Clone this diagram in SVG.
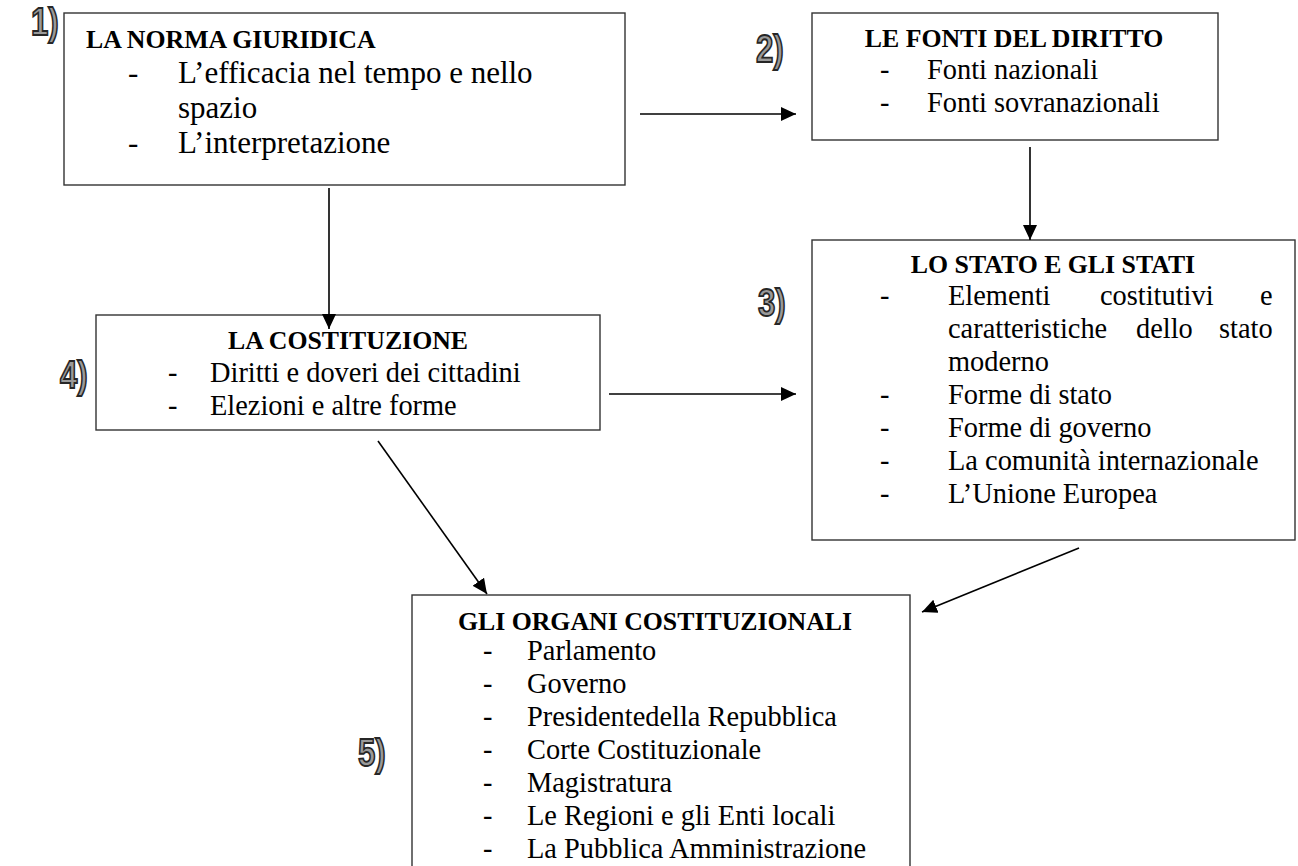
<svg xmlns="http://www.w3.org/2000/svg" width="1298" height="866" viewBox="0 0 1298 866">
<style>
.box{fill:#fff;stroke:#333;stroke-width:1.4}
.hd{font-family:"Liberation Serif","Times New Roman",serif;font-weight:bold;font-size:25.8px;fill:#000}
.it{font-family:"Liberation Serif","Times New Roman",serif;font-size:28.4px;fill:#000}
.it1{font-family:"Liberation Serif","Times New Roman",serif;font-size:31px;fill:#000}
.num{font-family:"Liberation Sans",Arial,sans-serif;font-weight:bold;font-size:38px;fill:#9a9a9a;stroke:#262626;stroke-width:1.8}
.con{stroke:#000;stroke-width:1.6;fill:none}
</style>
<defs>
<marker id="ah" markerUnits="userSpaceOnUse" markerWidth="16" markerHeight="16" refX="15" refY="7" orient="auto">
<path d="M0,0 L15,7 L0,14 z" fill="#000"/>
</marker>
</defs>
<rect width="1298" height="866" fill="#fff"/>

<g id="node1">
<rect class="box" x="64" y="13" width="561" height="172"/>
<text class="hd" x="86" y="48">LA NORMA GIURIDICA</text>
<text class="it1" x="128" y="83">-</text>
<text class="it1" x="178" y="83">L’efficacia nel tempo e nello</text>
<text class="it1" x="178" y="118">spazio</text>
<text class="it1" x="128" y="153">-</text>
<text class="it1" x="178" y="153">L’interpretazione</text>
</g>

<g id="node2">
<rect class="box" x="812" y="13" width="406" height="127"/>
<text class="hd" x="1014" y="47" text-anchor="middle">LE FONTI DEL DIRITTO</text>
<text class="it" x="880" y="79">-</text>
<text class="it" x="927" y="79">Fonti nazionali</text>
<text class="it" x="880" y="112">-</text>
<text class="it" x="927" y="112">Fonti sovranazionali</text>
</g>

<g id="node3">
<rect class="box" x="812" y="240" width="483" height="300"/>
<text class="hd" x="1053" y="273" text-anchor="middle">LO STATO E GLI STATI</text>
<text class="it" x="880" y="305">-</text>
<text class="it" y="305"><tspan x="948">Elementi</tspan><tspan x="1100">costitutivi</tspan><tspan x="1260">e</tspan></text>
<text class="it" y="338"><tspan x="948">caratteristiche</tspan><tspan x="1136">dello</tspan><tspan x="1219">stato</tspan></text>
<text class="it" x="948" y="371">moderno</text>
<text class="it" x="880" y="404">-</text>
<text class="it" x="948" y="404">Forme di stato</text>
<text class="it" x="880" y="437">-</text>
<text class="it" x="948" y="437">Forme di governo</text>
<text class="it" x="880" y="470">-</text>
<text class="it" x="948" y="470">La comunità internazionale</text>
<text class="it" x="880" y="503">-</text>
<text class="it" x="948" y="503">L’Unione Europea</text>
</g>

<g id="node4">
<rect class="box" x="96" y="315" width="504" height="115"/>
<text class="hd" x="348" y="349" text-anchor="middle">LA COSTITUZIONE</text>
<text class="it" x="168" y="382">-</text>
<text class="it" x="210" y="382">Diritti e doveri dei cittadini</text>
<text class="it" x="168" y="415">-</text>
<text class="it" x="210" y="415">Elezioni e altre forme</text>
</g>

<g id="node5">
<rect class="box" x="412" y="595" width="498" height="300"/>
<text class="hd" x="655" y="630" text-anchor="middle">GLI ORGANI COSTITUZIONALI</text>
<text class="it" x="483" y="660">-</text><text class="it" x="527" y="660">Parlamento</text>
<text class="it" x="483" y="693">-</text><text class="it" x="527" y="693">Governo</text>
<text class="it" x="483" y="726">-</text><text class="it" x="527" y="726">Presidentedella Repubblica</text>
<text class="it" x="483" y="759">-</text><text class="it" x="527" y="759">Corte Costituzionale</text>
<text class="it" x="483" y="792">-</text><text class="it" x="527" y="792">Magistratura</text>
<text class="it" x="483" y="825">-</text><text class="it" x="527" y="825">Le Regioni e gli Enti locali</text>
<text class="it" x="483" y="858">-</text><text class="it" x="527" y="858">La Pubblica Amministrazione</text>
</g>

<g id="connectors">
<line class="con" x1="640" y1="114" x2="796" y2="114" marker-end="url(#ah)"/>
<line class="con" x1="1030" y1="147" x2="1030" y2="240" marker-end="url(#ah)"/>
<line class="con" x1="329" y1="188" x2="329" y2="329" marker-end="url(#ah)"/>
<line class="con" x1="609" y1="394" x2="796" y2="394" marker-end="url(#ah)"/>
<line class="con" x1="378" y1="441" x2="487" y2="594" marker-end="url(#ah)"/>
<line class="con" x1="1079" y1="548" x2="922" y2="612" marker-end="url(#ah)"/>
</g>

<g id="labels">
<text class="num" transform="translate(31,35) scale(0.82,1)">1)</text>
<text class="num" transform="translate(756,62) scale(0.82,1)">2)</text>
<text class="num" transform="translate(758,316) scale(0.82,1)">3)</text>
<text class="num" transform="translate(60,388) scale(0.82,1)">4)</text>
<text class="num" transform="translate(358,766) scale(0.82,1)">5)</text>
</g>
</svg>
